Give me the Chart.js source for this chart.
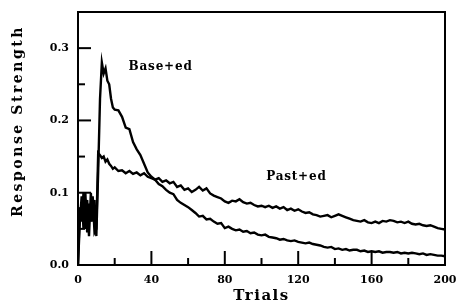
<!DOCTYPE html>
<html>
<head>
<meta charset="utf-8">
<script src="https://cdn.jsdelivr.net/npm/chart.js@4.4.1/dist/chart.umd.min.js"></script>
<style>
  html, body { margin: 0; padding: 0; background: #fff; }
  #wrap { width: 456px; height: 305px; }
</style>
</head>
<body>
<div id="wrap"><canvas id="grafico"></canvas></div>
<script>
// --- DATOS ---
const trials = [0,1,2,3,4,5,6,7,8,9,10,11,12,13,14,15,16,17,18,19,20,
  22,24,26,28,30,32,34,36,38,40,42,44,46,48,50,52,54,56,58,60,
  62,64,66,68,70,72,74,76,78,80,82,84,86,88,90,92,94,96,98,100,
  102,104,106,108,110,112,114,116,118,120,122,124,126,128,130,132,134,136,138,140,
  142,144,146,148,150,152,154,156,158,160,162,164,166,168,170,172,174,176,178,180,
  182,184,186,188,190,192,194,196,198,200];

const baseEd = [0.00,0.08,0.06,0.10,0.05,0.09,0.04,0.10,0.06,0.09,0.04,0.13,0.23,0.28,0.265,0.272,0.255,0.25,0.23,0.218,0.215,
  0.214,0.205,0.19,0.188,0.17,0.16,0.152,0.14,0.128,0.122,0.118,0.112,0.109,0.104,0.10,0.098,0.09,0.086,0.083,0.08,
  0.076,0.072,0.067,0.068,0.063,0.064,0.06,0.057,0.058,0.051,0.053,0.05,0.048,0.049,0.046,0.047,0.044,0.045,0.042,0.041,
  0.042,0.039,0.038,0.037,0.035,0.036,0.034,0.033,0.034,0.032,0.031,0.030,0.031,0.029,0.028,0.027,0.025,0.024,0.025,0.022,
  0.023,0.021,0.022,0.020,0.021,0.021,0.019,0.020,0.018,0.019,0.018,0.019,0.017,0.018,0.018,0.017,0.018,0.016,0.017,0.016,
  0.017,0.016,0.015,0.016,0.014,0.015,0.014,0.013,0.013,0.012];

const pastEd = [0.00,0.06,0.095,0.05,0.10,0.045,0.085,0.06,0.095,0.045,0.05,0.155,0.152,0.148,0.15,0.143,0.146,0.14,0.137,0.133,0.135,
  0.13,0.131,0.127,0.13,0.126,0.128,0.124,0.127,0.122,0.12,0.118,0.12,0.115,0.117,0.113,0.115,0.108,0.11,0.104,0.106,
  0.101,0.104,0.108,0.103,0.106,0.099,0.096,0.094,0.092,0.088,0.086,0.089,0.088,0.091,0.087,0.085,0.086,0.083,0.081,0.082,
  0.08,0.082,0.079,0.081,0.078,0.08,0.076,0.078,0.075,0.077,0.074,0.072,0.073,0.070,0.069,0.067,0.068,0.069,0.066,0.068,
  0.07,0.068,0.066,0.064,0.062,0.061,0.06,0.062,0.059,0.058,0.06,0.058,0.061,0.06,0.062,0.061,0.059,0.06,0.058,0.06,
  0.057,0.056,0.057,0.055,0.054,0.055,0.053,0.051,0.05,0.049];

const etiquetas = [
  { texto: 'Base+ed', x: 45, y: 0.274 },
  { texto: 'Past+ed', x: 119, y: 0.122 }
];

const fuente = '"DejaVu Serif", serif';

// ticks hacia adentro, marco y textos
const marcoPlugin = {
  id: 'marco',
  afterDraw(chart) {
    const { ctx, chartArea: a, scales } = chart;
    ctx.save();
    ctx.strokeStyle = '#000';
    ctx.lineWidth = 2;
    ctx.strokeRect(a.left, a.top, a.right - a.left, a.bottom - a.top);

    // ticks eje Y
    scales.y.ticks.forEach(t => {
      const n = Math.round(t.value * 20);
      if (n === 0 || n === 7) return;
      const py = scales.y.getPixelForValue(t.value);
      const len = n % 2 === 0 ? 13 : 7;
      ctx.beginPath(); ctx.moveTo(a.left, py); ctx.lineTo(a.left + len, py); ctx.stroke();
    });
    // ticks eje X
    scales.x.ticks.forEach(t => {
      if (t.value === 0 || t.value === 200) return;
      const px = scales.x.getPixelForValue(t.value);
      const len = t.value % 40 === 0 ? 14 : 7;
      ctx.beginPath(); ctx.moveTo(px, a.bottom); ctx.lineTo(px, a.bottom - len); ctx.stroke();
    });

    ctx.fillStyle = '#000';
    ctx.textAlign = 'center';
    ctx.textBaseline = 'middle';
    ctx.font = 'bold 12px ' + fuente;
    ctx.letterSpacing = '0.8px';
    etiquetas.forEach(e => {
      ctx.fillText(e.texto, scales.x.getPixelForValue(e.x), scales.y.getPixelForValue(e.y));
    });

    // título eje X
    ctx.font = 'bold 15px ' + fuente;
    ctx.letterSpacing = '1.5px';
    ctx.fillText('Trials', (a.left + a.right) / 2, 296);

    // título eje Y
    ctx.font = 'bold 14px ' + fuente;
    ctx.letterSpacing = '0px';
    const w0 = ctx.measureText('Response Strength').width;
    ctx.letterSpacing = Math.max(0, (192 - w0) / 17).toFixed(2) + 'px';
    ctx.translate(18, 121);
    ctx.rotate(-Math.PI / 2);
    ctx.fillText('Response Strength', 0, 0);
    ctx.restore();
  }
};

const serie = (vals) => trials.map((t, i) => ({ x: t, y: vals[i] }));

new Chart(document.getElementById('grafico'), {
  type: 'line',
  data: {
    datasets: [
      { label: 'Base+ed', data: serie(baseEd), borderColor: '#000', borderWidth: 2.4, pointRadius: 0, tension: 0 },
      { label: 'Past+ed', data: serie(pastEd), borderColor: '#000', borderWidth: 2.4, pointRadius: 0, tension: 0 }
    ]
  },
  options: {
    responsive: true,
    maintainAspectRatio: false,
    animation: false,
    layout: { padding: { top: 12, right: 11, left: 0, bottom: 0 } },
    plugins: { legend: { display: false }, tooltip: { enabled: false } },
    scales: {
      x: {
        type: 'linear', min: 0, max: 200,
        grid: { display: false, drawTicks: false },
        border: { display: false },
        ticks: {
          stepSize: 20, autoSkip: false, maxRotation: 0, padding: 9,
          color: '#000', font: { family: fuente, weight: 'bold', size: 11 },
          callback: v => (v % 40 === 0 ? String(v) : '')
        },
        afterFit: s => { s.height = 40; s.paddingLeft = 0; s.paddingRight = 0; }
      },
      y: {
        min: 0, max: 0.35,
        grid: { display: false, drawTicks: false },
        border: { display: false },
        ticks: {
          stepSize: 0.05, autoSkip: false, padding: 9,
          color: '#000', font: { family: fuente, weight: 'bold', size: 11 },
          callback: v => {
            const n = Math.round(v * 20);
            return (n % 2 === 0 && n < 7) ? (n / 20).toFixed(1) : '';
          }
        },
        afterFit: s => { s.width = 78; s.paddingTop = 0; s.paddingBottom = 0; }
      }
    }
  },
  plugins: [marcoPlugin]
});
</script>
</body>
</html>
